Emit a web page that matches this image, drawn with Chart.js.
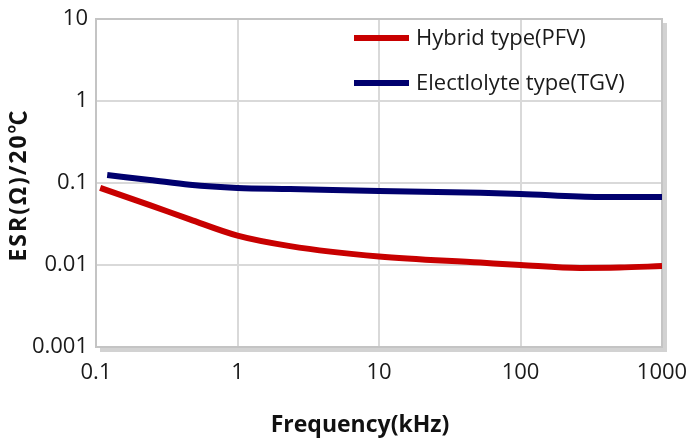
<!DOCTYPE html>
<html>
<head>
<meta charset="utf-8">
<script src="https://cdn.jsdelivr.net/npm/chart.js"></script>
<style>
  html, body { margin: 0; padding: 0; background: #fff; }
  #wrap { width: 686px; height: 438px; }
</style>
</head>
<body>
<div id="wrap"><canvas id="esr-chart" width="686" height="438"></canvas></div>
<script>
// frequency (kHz) and ESR (ohm)
var hybrid_freq = [0.107, 0.24, 0.46, 1, 2.35, 10, 52, 100, 263, 500, 1000];
var hybrid_esr  = [0.087, 0.0537, 0.036, 0.0228, 0.0170, 0.0127, 0.0107, 0.0100, 0.0092, 0.0093, 0.0097];

var electro_freq = [0.12, 0.24, 0.46, 1, 2.35, 10, 52, 100, 363, 1000];
var electro_esr  = [0.125, 0.109, 0.095, 0.087, 0.0846, 0.080, 0.076, 0.0736, 0.0677, 0.0677];

var series_labels = ["Hybrid type(PFV)", "Electlolyte type(TGV)"];
var series_colors = ["#c80000", "#00006e"];

var x_ticks = [0.1, 1, 10, 100, 1000];
var y_ticks = [0.001, 0.01, 0.1, 1, 10];

var x_title = "Frequency(kHz)";
var y_title = "ESR(Ω)/20℃";

var FONT = "'Open Sans', 'Noto Sans', 'DejaVu Sans', sans-serif";
var TITLE_FONT = "'Open Sans', 'Noto Sans CJK JP', 'DejaVu Sans', sans-serif";

function to_points(xs, ys)
{
    var pts = [];
    for (var i = 0; i < xs.length; i++) pts.push({ x: xs[i], y: ys[i] });
    return pts;
}

function tick_label(v)
{
    return String(v);
}

// frame with shadow, legend inside plot, axis titles
var decor = {
    id: 'decor',
    beforeDatasetsDraw: function (chart)
    {
        var a = chart.chartArea, c = chart.ctx;
        c.save();
        c.fillStyle = '#d2d2d2';
        c.fillRect(a.right, a.top + 4, 5, a.bottom - a.top + 1);
        c.fillRect(a.left + 4, a.bottom, a.right - a.left + 1, 5);
        c.strokeStyle = '#c4c4c4';
        c.lineWidth = 2;
        c.strokeRect(a.left, a.top, a.right - a.left, a.bottom - a.top);
        c.restore();
    },
    afterDraw: function (chart)
    {
        var a = chart.chartArea, c = chart.ctx;
        c.save();
        // legend
        var ds = chart.data.datasets;
        for (var i = 0; i < ds.length; i++)
        {
            var y = a.top + 19 + i * 45;
            c.strokeStyle = ds[i].borderColor;
            c.lineWidth = 6;
            c.beginPath();
            c.moveTo(a.right - 308, y);
            c.lineTo(a.right - 253, y);
            c.stroke();
            c.fillStyle = '#1a1a1a';
            c.font = '22px ' + FONT;
            c.textAlign = 'left';
            c.textBaseline = 'middle';
            c.fillText(ds[i].label, a.right - 246, y + 1);
        }
        // axis titles
        c.fillStyle = '#111';
        c.font = 'bold 23px ' + TITLE_FONT;
        c.textAlign = 'center';
        c.textBaseline = 'middle';
        c.fillText(x_title, 360, 425);
        c.translate(19, 185);
        c.rotate(-Math.PI / 2);
        c.letterSpacing = '2px';
        c.fillText(y_title, 0, 0);
        c.restore();
    }
};

var m_chart = new Chart(document.getElementById('esr-chart'), {
    type: 'line',
    data: {
        datasets: [
            {
                label: series_labels[0],
                data: to_points(hybrid_freq, hybrid_esr),
                borderColor: series_colors[0],
                borderWidth: 6,
                pointRadius: 0,
                cubicInterpolationMode: 'monotone',
                fill: false
            },
            {
                label: series_labels[1],
                data: to_points(electro_freq, electro_esr),
                borderColor: series_colors[1],
                borderWidth: 6,
                pointRadius: 0,
                cubicInterpolationMode: 'monotone',
                fill: false
            }
        ]
    },
    options: {
        responsive: false,
        animation: false,
        layout: { padding: { top: 19, right: 24, left: 0, bottom: 0 } },
        plugins: {
            legend: { display: false },
            tooltip: { enabled: false }
        },
        scales: {
            x: {
                type: 'logarithmic',
                min: 0.1,
                max: 1000,
                afterBuildTicks: function (s) { s.ticks = x_ticks.map(function (v) { return { value: v }; }); },
                afterFit: function (s) { s.height = 91; s.paddingLeft = 0; s.paddingRight = 0; },
                grid: { color: '#d9d9d9', lineWidth: 2, drawTicks: false },
                border: { display: false },
                ticks: {
                    color: '#1a1a1a',
                    font: { family: FONT, size: 22 },
                    padding: 13,
                    maxRotation: 0,
                    autoSkip: false,
                    callback: tick_label
                }
            },
            y: {
                type: 'logarithmic',
                min: 0.001,
                max: 10,
                afterBuildTicks: function (s) { s.ticks = y_ticks.map(function (v) { return { value: v }; }); },
                afterFit: function (s) { s.width = 96; s.paddingTop = 0; s.paddingBottom = 0; },
                grid: { color: '#d9d9d9', lineWidth: 2, drawTicks: false },
                border: { display: false },
                ticks: {
                    color: '#1a1a1a',
                    font: { family: FONT, size: 22 },
                    padding: 8,
                    autoSkip: false,
                    callback: tick_label
                }
            }
        }
    },
    plugins: [decor]
});
</script>
</body>
</html>
